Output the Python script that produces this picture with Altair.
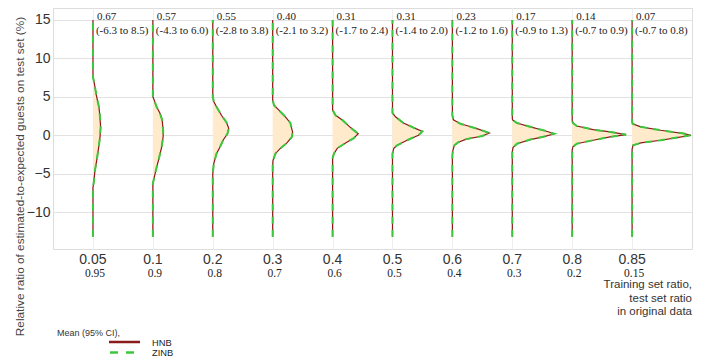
import altair as alt
import pandas as pd

# ---------------- data ----------------
train_ratio = ["0.05", "0.1", "0.2", "0.3", "0.4", "0.5", "0.6", "0.7", "0.8", "0.85"]
test_ratio = ["0.95", "0.9", "0.8", "0.7", "0.6", "0.5", "0.4", "0.3", "0.2", "0.15"]
mean_vals = ["0.67", "0.57", "0.55", "0.40", "0.31", "0.31", "0.23", "0.17", "0.14", "0.07"]
ci_vals = ["(-6.3 to 8.5)", "(-4.3 to 6.0)", "(-2.8 to 3.8)", "(-2.1 to 3.2)", "(-1.7 to 2.4)",
           "(-1.4 to 2.0)", "(-1.2 to 1.6)", "(-0.9 to 1.3)", "(-0.7 to 0.9)", "(-0.7 to 0.8)"]

# density profiles (relative ratio value, relative density width) per training ratio
dens_y = [
    [7.6, 6.8, 5.0, 3.7, 2.4, 1.0, -0.3, -1.6, -3.3, -4.6, -5.9, -6.8],
    [5.0, 4.6, 3.7, 2.9, 2.0, 0.65, -0.2, -1.6, -2.9, -4.2, -5.5, -6.3],
    [5.0, 4.4, 3.7, 2.6, 1.7, 0.9, 0.2, -0.65, -1.6, -2.4, -3.7, -5.0],
    [4.6, 3.9, 3.3, 2.4, 1.6, 0.4, -0.2, -1.0, -1.7, -2.4, -3.3, -4.0],
    [3.3, 2.6, 2.0, 1.0, 0.2, -0.4, -1.0, -1.7, -2.4, -3.0],
    [2.9, 2.4, 1.6, 1.0, 0.5, 0.0, -0.65, -1.3, -1.7, -2.4],
    [2.6, 2.0, 1.5, 1.2, 0.8, 0.3, -0.1, -0.5, -0.9, -1.3, -2.0, -2.6],
    [2.2, 2.0, 1.6, 1.1, 0.65, 0.2, -0.2, -0.56, -1.1, -1.6, -2.2],
    [1.9, 1.6, 1.2, 0.74, 0.43, 0.08, -0.2, -0.65, -1.1, -1.5, -1.9],
    [1.8, 1.5, 1.1, 0.65, 0.22, 0.0, -0.3, -0.65, -1.0, -1.3, -1.8],
]
dens_w = [
    [0, .022, .062, .100, .117, .128, .117, .095, .062, .033, .017, 0],
    [0, .022, .062, .117, .155, .172, .172, .145, .105, .062, .022, 0],
    [0, .017, .062, .145, .228, .267, .245, .172, .117, .062, .017, 0],
    [0, .022, .100, .212, .295, .333, .322, .238, .128, .045, .005, 0],
    [0, .050, .162, .300, .428, .350, .217, .078, .022, 0],
    [0, .050, .183, .350, .500, .433, .245, .078, .022, 0],
    [0, .017, .133, .267, .433, .617, .500, .233, .100, .033, .008, 0],
    [0, .005, .078, .300, .517, .700, .517, .300, .078, .012, 0],
    [0, .012, .078, .350, .633, .900, .633, .350, .078, .012, 0],
    [0, .008, .145, .478, .867, .983, .750, .478, .145, .017, 0],
]
line_top = 15
line_bottom = -13.2

# ---------------- tables ----------------
area_rows, line_rows = [], []
for g, (ys, ws) in enumerate(zip(dens_y, dens_w)):
    for y, w in zip(ys, ws):
        area_rows.append({"g": g, "pos": g, "y": y, "edge": g + w})
    pts = [(line_top, 0)] + list(zip(ys, ws)) + [(line_bottom, 0)]
    for y, w in pts:
        line_rows.append({"g": g, "y": y, "edge": g + w})
area_df = pd.DataFrame(area_rows)
line_df = pd.DataFrame(line_rows)
lab_df = pd.DataFrame({"pos": list(range(len(train_ratio))), "train": train_ratio,
                       "test": test_ratio, "mean": mean_vals, "ci": ci_vals})
one = pd.DataFrame({"a": [0]})

SANS = "Liberation Sans"
SERIF = "Liberation Serif"
xs = alt.Scale(domain=[-0.667, 10.0], nice=False, zero=False)
ys = alt.Scale(domain=[-14.8, 16.56], nice=False, zero=False)
xaxis = alt.Axis(values=list(range(10)), labels=False, ticks=False, domain=False, title=None,
                 grid=True, gridColor="#eeeeee", gridWidth=1)
yaxis = alt.Axis(values=[-10, -5, 0, 5, 10, 15], ticks=False, domain=False, title=None,
                 grid=True, gridColor="#e2e2e2", gridWidth=1, labelFont=SANS, labelFontSize=14,
                 labelColor="#333333", labelPadding=3)

area = alt.Chart(area_df).mark_area(orient="horizontal", color="#FFEACB").encode(
    x=alt.X("pos:Q", scale=xs, axis=xaxis),
    x2="edge:Q",
    y=alt.Y("y:Q", scale=ys, axis=yaxis),
    detail="g:N",
)
hnb = alt.Chart(line_df).mark_line(color="#8B1A1A", strokeWidth=1.2).encode(
    x=alt.X("edge:Q", scale=xs), y=alt.Y("y:Q", scale=ys), detail="g:N", order="y:Q")
zinb = alt.Chart(line_df).mark_line(color="#3CC83C", strokeWidth=2, strokeDash=[7, 6]).encode(
    x=alt.X("edge:Q", scale=xs), y=alt.Y("y:Q", scale=ys), detail="g:N", order="y:Q")

mean_txt = alt.Chart(lab_df).mark_text(font=SERIF, fontSize=11, align="left", baseline="alphabetic",
                                       dx=4, color="#222222").encode(
    x=alt.X("pos:Q", scale=xs), y=alt.value(11.5), text="mean:N")
ci_txt = alt.Chart(lab_df).mark_text(font=SERIF, fontSize=11, align="left", baseline="alphabetic",
                                     dx=3, color="#222222").encode(
    x=alt.X("pos:Q", scale=xs), y=alt.value(25.5), text="ci:N")
train_txt = alt.Chart(lab_df).mark_text(font=SANS, fontSize=14, align="center", baseline="alphabetic",
                                        color="#333333").encode(
    x=alt.X("pos:Q", scale=xs), y=alt.value(256), text="train:N")
test_txt = alt.Chart(lab_df).mark_text(font=SERIF, fontSize=11.5, align="center", baseline="alphabetic",
                                       dx=2, color="#222222").encode(
    x=alt.X("pos:Q", scale=xs), y=alt.value(268.5), text="test:N")

base1 = alt.Chart(one)
axis_note = base1.mark_text(font=SANS, fontSize=11.5, align="right", baseline="alphabetic",
                            color="#333333", lineHeight=13.5,
                            text=["Training set ratio,", "test set ratio", "in original data"]).encode(
    x=alt.value(639), y=alt.value(280))
ytitle = base1.mark_text(font=SANS, fontSize=11.8, align="center", baseline="alphabetic", angle=270,
                         color="#444444",
                         text="Relative ratio of estimated-to-expected guests on test set (%)").encode(
    x=alt.value(-29), y=alt.value(168.5))
leg_title = base1.mark_text(font=SANS, fontSize=9, align="left", baseline="alphabetic",
                            color="#333333", text="Mean (95% CI),").encode(
    x=alt.value(4), y=alt.value(328))
leg_hnb = base1.mark_rule(color="#8B1A1A", strokeWidth=2.5).encode(
    x=alt.value(56), x2=alt.value(87), y=alt.value(334))
leg_zinb = base1.mark_rule(color="#3CC83C", strokeWidth=2.5, strokeDash=[8, 8]).encode(
    x=alt.value(57), x2=alt.value(87), y=alt.value(344.5))
leg_hnb_t = base1.mark_text(font=SANS, fontSize=9.3, align="left", baseline="alphabetic",
                            color="#222222", text="HNB").encode(x=alt.value(99), y=alt.value(338))
leg_zinb_t = base1.mark_text(font=SANS, fontSize=9.3, align="left", baseline="alphabetic",
                             color="#222222", text="ZINB").encode(x=alt.value(99), y=alt.value(348))

chart = alt.layer(
    area, hnb, zinb, mean_txt, ci_txt, train_txt, test_txt, axis_note, ytitle,
    leg_title, leg_hnb, leg_zinb, leg_hnb_t, leg_zinb_t,
).properties(
    width=639, height=241,
    padding={"left": 45, "top": 0, "right": 1, "bottom": 111},
    autosize=alt.AutoSizeParams(type="none"),
).configure_view(stroke=None).configure(background="white")

chart.save("out.html", embed_options={"renderer": "svg", "actions": False})
